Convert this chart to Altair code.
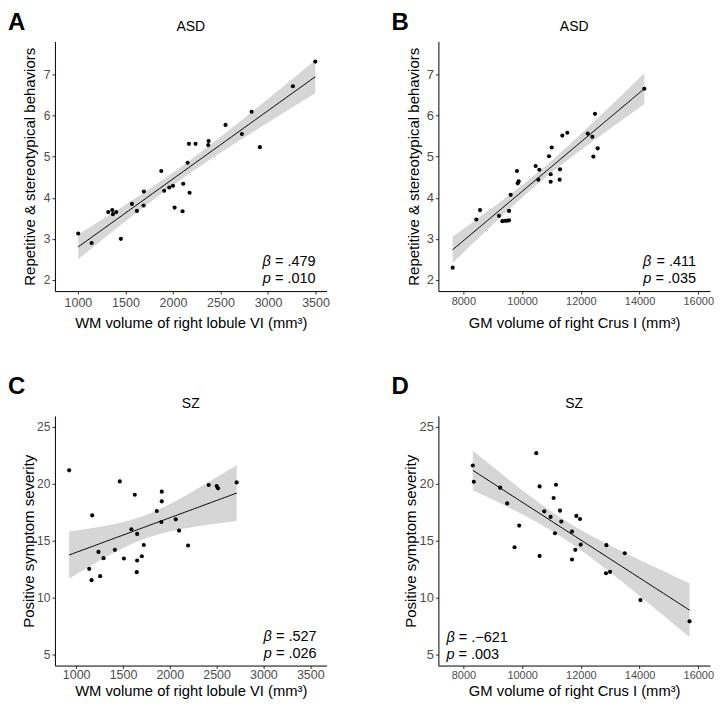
import altair as alt
import numpy as np
import pandas as pd

FONT = "Liberation Sans"

# ---------------- data ----------------
# Panel A: ASD, WM volume of right lobule VI vs repetitive & stereotypical behaviors
a_x = [1003, 1144, 1319, 1361, 1368, 1403, 1452, 1568, 1621, 1694, 1691, 1877, 1908, 1961, 2000,
       2017, 2101, 2108, 2154, 2168, 2175, 2238, 2371, 2375, 2553, 2725, 2827, 2915, 3262, 3497]
a_y = [3.13, 2.90, 3.65, 3.70, 3.60, 3.65, 3.00, 3.85, 3.68, 4.15, 3.81, 4.65, 4.17, 4.25, 4.29,
       3.76, 3.67, 4.34, 4.85, 5.31, 4.12, 5.31, 5.28, 5.38, 5.77, 5.55, 6.09, 5.23, 6.71, 7.31]

# Panel B: ASD, GM volume of right Crus I vs repetitive & stereotypical behaviors
b_x = [7637, 8443, 8568, 9215, 9328, 9419, 9487, 9555, 9555, 9612, 9827, 9850, 9884, 10463, 10554,
       10588, 10917, 10974, 10974, 11008, 11292, 11280, 11371, 11541, 12234, 12393, 12427, 12483, 12574, 14163]
b_y = [2.30, 3.47, 3.70, 3.56, 3.43, 3.44, 3.44, 3.45, 3.68, 4.07, 4.65, 4.35, 4.40, 4.77, 4.44,
       4.68, 5.01, 4.57, 4.39, 5.22, 4.69, 4.44, 5.51, 5.58, 5.56, 5.48, 5.00, 6.04, 5.20, 6.65]

# Panel C: SZ, WM volume of right lobule VI vs positive symptom severity
c_x = [925, 1139, 1164, 1171, 1238, 1256, 1292, 1413, 1466, 1509, 1590, 1626, 1651, 1651,
       1647, 1701, 1722, 1861, 1910, 1914, 1914, 2063, 2099, 2195, 2415, 2501, 2515, 2714]
c_y = [21.18, 12.53, 11.54, 17.23, 14.02, 11.89, 13.47, 14.20, 20.21, 13.44, 16.01, 19.04, 15.60, 13.26,
       12.24, 13.64, 14.63, 17.61, 16.65, 19.31, 18.46, 16.88, 15.89, 14.58, 19.89, 19.80, 19.60, 20.12]

# Panel D: SZ, GM volume of right Crus I vs positive symptom severity
d_x = [8319, 8353, 9251, 9490, 9741, 9900, 10480, 10594, 10594, 10753, 10969, 11072, 11118, 11152,
       11289, 11334, 11698, 11698, 11811, 11846, 11971, 11994, 12858, 12870, 12994, 13495, 14030, 15702]
d_y = [21.61, 20.18, 19.66, 18.28, 14.43, 16.33, 22.69, 19.77, 13.67, 17.58, 17.09, 18.75, 15.66, 19.92,
       17.64, 16.68, 15.80, 13.35, 14.20, 17.18, 16.91, 14.66, 12.15, 14.61, 12.27, 13.90, 9.79, 7.92]

letters = ["A", "B", "C", "D"]
groups = ["ASD", "ASD", "SZ", "SZ"]
x_titles = ["WM volume of right lobule VI (mm³)", "GM volume of right Crus I (mm³)",
            "WM volume of right lobule VI (mm³)", "GM volume of right Crus I (mm³)"]
y_titles = ["Repetitive & stereotypical behaviors", "Repetitive & stereotypical behaviors",
            "Positive symptom severity", "Positive symptom severity"]
beta_text = ["= .479", "= .411", "= .527", "= .−621"]
p_text = ["= .010", "= .035", "= .026", "= .003"]
x_ticks_wm = [1000, 1500, 2000, 2500, 3000, 3500]
x_ticks_gm = [8000, 10000, 12000, 14000, 16000]
y_ticks_rsb = [2, 3, 4, 5, 6, 7]
y_ticks_pss = [5, 10, 15, 20, 25]

W, H = 272, 250
# two-sided 95% t quantiles for df = 28 and df = 26
T_CRIT = {30: 2.0484, 28: 2.0555}

CW = {"0": .556, "1": .556, "2": .556, "3": .556, "4": .556, "5": .556, "6": .556,
      "7": .556, "8": .556, "9": .556, ".": .278, " ": .278, "=": .584, "−": .584}


def text_width(s, fs):
    return sum(CW.get(ch, .556) for ch in s) * fs


def lm_band(x, y):
    x = np.asarray(x, float)
    y = np.asarray(y, float)
    n = len(x)
    xm = x.mean()
    sxx = ((x - xm) ** 2).sum()
    b = ((x - xm) * (y - y.mean())).sum() / sxx
    a = y.mean() - b * xm
    s = np.sqrt(((y - (a + b * x)) ** 2).sum() / (n - 2))
    g = np.linspace(x.min(), x.max(), 100)
    f = a + b * g
    se = s * np.sqrt(1.0 / n + (g - xm) ** 2 / sxx)
    t = T_CRIT[n]
    return pd.DataFrame({"x": g, "fit": f, "lo": f - t * se, "hi": f + t * se})


def panel(i, xs, ys, xdom, ydom, xticks, yticks, cfg):
    pts = pd.DataFrame({"x": xs, "fit": ys})
    band = lm_band(xs, ys)
    xaxis = alt.Axis(values=xticks, format="d", title=x_titles[i], labelFontSize=cfg["xlab"],
                     labelPadding=cfg["xlp"], titlePadding=cfg["xtp"], titleFontSize=14.8,
                     labelFlush=False, labelOverlap=False)
    yaxis = alt.Axis(values=yticks, format="d", title=y_titles[i], labelFontSize=cfg["ylab"],
                     labelPadding=2, titlePadding=cfg["ytp"], titleFontSize=15,
                     labelFlush=False, labelOverlap=False)
    X = alt.X("x:Q", scale=alt.Scale(domain=xdom, nice=False, zero=False), axis=xaxis)
    Yf = alt.Y("fit:Q", scale=alt.Scale(domain=ydom, nice=False, zero=False), axis=yaxis)

    area = alt.Chart(band).mark_area(color="#D6D6D6").encode(
        x=X, y=alt.Y("lo:Q", scale=alt.Scale(domain=ydom, nice=False, zero=False), axis=yaxis),
        y2="hi:Q")
    line = alt.Chart(band).mark_line(color="black", strokeWidth=1).encode(x=X, y=Yf)
    dots = alt.Chart(pts).mark_circle(color="black", size=17, opacity=1).encode(x=X, y=Yf)

    one = pd.DataFrame({"letter": [letters[i]], "group": [groups[i]],
                        "b": [beta_text[i]], "p": [p_text[i]], "bs": ["β"], "ps": ["p"]})
    base = alt.Chart(one)
    letter = base.mark_text(x=-47, y=cfg["ly"], align="left", baseline="alphabetic", fontSize=24,
                            fontWeight="bold", font=FONT, color="black").encode(text="letter:N")
    title = base.mark_text(x=W / 2, y=cfg["ty"], align="center", baseline="alphabetic",
                           fontSize=14, font=FONT, color="black").encode(text="group:N")
    fs = 14.5
    sp = 0.278 * fs
    layers = [area, line, dots, letter, title]
    yb, yp = H + cfg["by"], H + cfg["py"]
    if cfg["right"]:
        xr = W + cfg["ax"]
        wb, wp = text_width(beta_text[i], fs) + sp, text_width(p_text[i], fs) + sp
        layers += [
            base.mark_text(x=xr, y=yb, align="right", baseline="alphabetic", fontSize=fs,
                           font=FONT, color="black").encode(text="b:N"),
            base.mark_text(x=xr - wb, y=yb, align="right", baseline="alphabetic", fontSize=fs,
                           font=FONT, fontStyle="italic", color="black").encode(text="bs:N"),
            base.mark_text(x=xr, y=yp, align="right", baseline="alphabetic", fontSize=fs,
                           font=FONT, color="black").encode(text="p:N"),
            base.mark_text(x=xr - wp, y=yp, align="right", baseline="alphabetic", fontSize=fs,
                           font=FONT, fontStyle="italic", color="black").encode(text="ps:N"),
        ]
    else:
        xl = cfg["ax"]
        layers += [
            base.mark_text(x=xl, y=yb, align="left", baseline="alphabetic", fontSize=fs,
                           font=FONT, fontStyle="italic", color="black").encode(text="bs:N"),
            base.mark_text(x=xl + 0.58 * fs + sp, y=yb, align="left", baseline="alphabetic",
                           fontSize=fs, font=FONT, color="black").encode(text="b:N"),
            base.mark_text(x=xl, y=yp, align="left", baseline="alphabetic", fontSize=fs,
                           font=FONT, fontStyle="italic", color="black").encode(text="ps:N"),
            base.mark_text(x=xl + 0.556 * fs + sp, y=yp, align="left", baseline="alphabetic",
                           fontSize=fs, font=FONT, color="black").encode(text="p:N"),
        ]
    return alt.layer(*layers).properties(width=W, height=H)


pA = panel(0, a_x, a_y, [758, 3616], [1.73, 7.8], x_ticks_wm, y_ticks_rsb,
           dict(xlab=12.5, xlp=2, xtp=7, ylab=12, ytp=6, ly=-11, ty=-10, by=-25, py=-8.5, ax=-11, right=True))
pB = panel(1, b_x, b_y, [7150, 16400], [1.73, 7.8], x_ticks_gm, y_ticks_rsb,
           dict(xlab=11, xlp=1, xtp=9, ylab=13, ytp=5, ly=-11, ty=-10, by=-25, py=-8.5, ax=-14, right=True))
pC = panel(2, c_x, c_y, [773, 3674], [4.04, 25.96], x_ticks_wm, y_ticks_pss,
           dict(xlab=12.5, xlp=0, xtp=2, ylab=12, ytp=0, ly=-22, ty=-8, by=-24.5, py=-8, ax=-10, right=True))
pD = panel(3, d_x, d_y, [7147, 16399], [4.04, 25.96], x_ticks_gm, y_ticks_pss,
           dict(xlab=11, xlp=1, xtp=3, ylab=13, ytp=0, ly=-22, ty=-8, by=-23.5, py=-7, ax=8, right=False))

chart = alt.concat(pA, pB, pC, pD, columns=2, spacing={"row": 125, "column": 112},
                   bounds="flush").properties(
    padding={"top": 3, "left": 0, "right": 0, "bottom": 0}
).configure_view(stroke=None).configure_axis(
    grid=False, domainColor="black", domainWidth=1, tickColor="#333333", tickSize=3, tickWidth=1,
    labelColor="#4D4D4D", titleColor="black", labelFont=FONT, titleFont=FONT,
    titleFontWeight="normal")

chart.save("out.html", embed_options={"renderer": "svg", "actions": False})
